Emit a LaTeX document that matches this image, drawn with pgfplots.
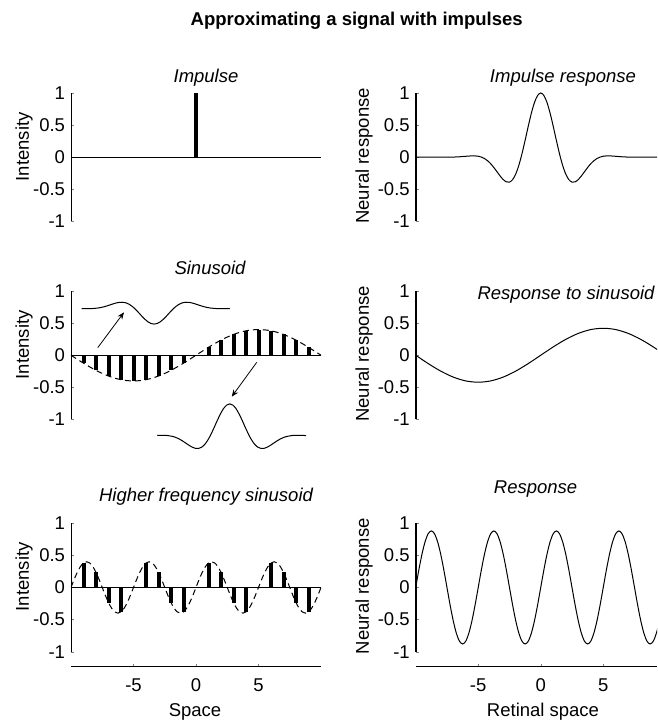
\documentclass[border=0pt]{standalone}
\usepackage{fontspec}
\setmainfont{Liberation Sans}
\usepackage{pgfplots}
\pgfplotsset{compat=1.18}
\usetikzlibrary{arrows.meta}

\newcommand{\fs}{\fontsize{9.25}{11}\selectfont}

\pgfplotsset{
  panel/.style={
    scale only axis,
    height=64.25pt,
    xmin=-10, ymin=-1, ymax=1,
    axis y line*=left,
    ytick={-1,-0.5,0,0.5,1},
    yticklabels={-1,-0.5,0,0.5,1},
    tick align=inside,
    major tick length=1.5pt,
    yticklabel style={font=\fs, inner sep=0pt, xshift=-2.8pt},
    every axis y label/.style={rotate=90, anchor=south, inner sep=0pt, font=\fs},
    every axis title shift=0pt,
    every axis title/.style={anchor=base, inner sep=0pt, font=\fs\itshape},
    anchor=south west,
  },
  leftcol/.style={panel, width=125pt, xmax=10,
    y axis line style={-, line width=0.4pt},
    ylabel={Intensity},
    ylabel style={at={(axis description cs:-0.152,0.582)}}},
  rightcol/.style={panel, width=120.65pt, xmax=9.3,
    y axis line style={-, line width=1.2pt},
    ylabel={Neural response},
    ylabel style={at={(axis description cs:-0.177,0.51)}}},
  noxaxis/.style={hide x axis},
  bottomrow/.style={
    axis x line*=bottom,
    x axis line style={-, yshift=-7.5pt, line width=0.7pt},
    xtick={-5,0,5}, xticklabels={-5,0,5},
    xtick style={yshift=-7.5pt},
    xticklabel style={font=\fs, inner sep=0pt, anchor=north, yshift=-13.15pt},
    every axis x label/.style={anchor=base, inner sep=0pt, font=\fs,
      at={(axis description cs:#1,0)}, yshift=-32.15pt}},
  curve/.style={black, line width=0.5pt, smooth},
  stem/.style={ycomb, black, line width=2pt},
  dashcurve/.style={black, line width=0.5pt, smooth, dash pattern=on 3pt off 2pt},
}

\begin{document}
\begin{tikzpicture}
\useasboundingbox (0,0) rectangle (328.5pt,360.5pt);

\node[anchor=base, font=\fs\bfseries] at (178.35pt,347.5pt) {Approximating a signal with impulses};

% Row 1 left: impulse
\begin{axis}[leftcol, noxaxis, at={(35.5pt,249.75pt)},
  title={Impulse}, title style={at={(axis description cs:0.54,1.080)}}]
\addplot[black, line width=0.5pt] coordinates {(-10,0) (10,0)};
\addplot[stem] coordinates {(0,1)};
\end{axis}

% Row 1 right: impulse response
\begin{axis}[rightcol, noxaxis, at={(207.85pt,249.75pt)},
  title={Impulse response}, title style={at={(axis description cs:0.6104,1.080)}}]
\addplot[curve] coordinates {
(-10,0) (-9,0) (-8,0) (-7,0.0025) (-6.5,0.0072) (-6,0.0146) (-5.75,0.0184)
(-5.5,0.0210) (-5.25,0.0208) (-5,0.0155) (-4.75,0.0027) (-4.5,-0.0200)
(-4.25,-0.0546) (-4,-0.1017) (-3.75,-0.1600) (-3.5,-0.2254) (-3.25,-0.2911)
(-3,-0.3476) (-2.75,-0.3836) (-2.5,-0.3873) (-2.25,-0.3487) (-2,-0.2614)
(-1.75,-0.1248) (-1.5,0.0544) (-1.25,0.2629) (-1,0.4810) (-0.75,0.6854)
(-0.5,0.8524) (-0.25,0.9619) (0,1) (0.25,0.9619) (0.5,0.8524) (0.75,0.6854)
(1,0.4810) (1.25,0.2629) (1.5,0.0544) (1.75,-0.1248) (2,-0.2614) (2.25,-0.3487)
(2.5,-0.3873) (2.75,-0.3836) (3,-0.3476) (3.25,-0.2911) (3.5,-0.2254)
(3.75,-0.1600) (4,-0.1017) (4.25,-0.0546) (4.5,-0.0200) (4.75,0.0027)
(5,0.0155) (5.25,0.0208) (5.5,0.0210) (5.75,0.0184) (6,0.0146) (6.5,0.0072)
(7,0.0025) (8,0) (9,0) (10,0)};
\end{axis}

% Row 2 left: sinusoid as impulses
\begin{axis}[leftcol, noxaxis, at={(35.5pt,150.75pt)}, clip=false,
  title={Sinusoid}, title style={at={(axis description cs:0.556,1.1245)}}]
\addplot[black, line width=0.5pt] coordinates {(-10,0) (10,0)};
\addplot[stem] coordinates {
(-9,-0.1236) (-8,-0.2351) (-7,-0.3236) (-6,-0.3804) (-5,-0.4) (-4,-0.3804)
(-3,-0.3236) (-2,-0.2351) (-1,-0.1236) (1,0.1236) (2,0.2351) (3,0.3236)
(4,0.3804) (5,0.4) (6,0.3804) (7,0.3236) (8,0.2351) (9,0.1236)};
\addplot[dashcurve] coordinates {
(-10,0) (-9.5,-0.0626) (-9,-0.1236) (-8.5,-0.1816) (-8,-0.2351) (-7.5,-0.2828)
(-7,-0.3236) (-6.5,-0.3564) (-6,-0.3804) (-5.5,-0.3951) (-5,-0.4) (-4.5,-0.3951)
(-4,-0.3804) (-3.5,-0.3564) (-3,-0.3236) (-2.5,-0.2828) (-2,-0.2351) (-1.5,-0.1816)
(-1,-0.1236) (-0.5,-0.0626) (0,0) (0.5,0.0626) (1,0.1236) (1.5,0.1816) (2,0.2351)
(2.5,0.2828) (3,0.3236) (3.5,0.3564) (4,0.3804) (4.5,0.3951) (5,0.4) (5.5,0.3951)
(6,0.3804) (6.5,0.3564) (7,0.3236) (7.5,0.2828) (8,0.2351) (8.5,0.1816)
(9,0.1236) (9.5,0.0626) (10,0)};
% inset: response to one negative impulse
\addplot[curve] coordinates {
(-9.15,0.7255) (-8.85,0.7249) (-8.35,0.7262) (-7.85,0.7349) (-7.6,0.7434)
(-7.35,0.7549) (-7.1,0.7692) (-6.85,0.7852) (-6.6,0.8013) (-6.35,0.8152)
(-6.1,0.8240) (-5.85,0.8249) (-5.6,0.8154) (-5.35,0.7940) (-5.1,0.7606)
(-4.85,0.7167) (-4.6,0.6656) (-4.35,0.6122) (-4.1,0.5621) (-3.85,0.5212)
(-3.6,0.4943) (-3.35,0.485) (-3.1,0.4943) (-2.85,0.5212) (-2.6,0.5621)
(-2.35,0.6122) (-2.1,0.6656) (-1.85,0.7167) (-1.6,0.7606) (-1.35,0.7940)
(-1.1,0.8154) (-0.85,0.8249) (-0.6,0.8240) (-0.35,0.8152) (-0.1,0.8013)
(0.15,0.7852) (0.4,0.7692) (0.65,0.7549) (0.9,0.7434) (1.15,0.7349)
(1.65,0.7262) (2.15,0.7249) (2.7,0.7265)};
% inset: response to one positive impulse
\addplot[curve] coordinates {
(-3.1,-1.2478) (-2.8,-1.2465) (-2.3,-1.2492) (-1.8,-1.267) (-1.55,-1.2843)
(-1.3,-1.3079) (-1.05,-1.337) (-0.8,-1.3697) (-0.55,-1.4026) (-0.3,-1.4308)
(-0.05,-1.4488) (0.2,-1.4507) (0.45,-1.4314) (0.7,-1.3877) (0.95,-1.3194)
(1.2,-1.2298) (1.45,-1.1255) (1.7,-1.0165) (1.95,-0.9143) (2.2,-0.8308)
(2.45,-0.776) (2.7,-0.757) (2.95,-0.776) (3.2,-0.8308) (3.45,-0.9143)
(3.7,-1.0165) (3.95,-1.1255) (4.2,-1.2298) (4.45,-1.3194) (4.7,-1.3877)
(4.95,-1.4314) (5.2,-1.4507) (5.45,-1.4488) (5.7,-1.4308) (5.95,-1.4026)
(6.2,-1.3697) (6.45,-1.337) (6.7,-1.3079) (6.95,-1.2843) (7.2,-1.267)
(7.7,-1.2492) (8.2,-1.2465) (8.8,-1.25)};
\addplot[black, line width=0.4pt, -{Stealth[length=3.5pt,width=2.8pt]}] coordinates {(-7.86,0.118) (-5.76,0.668)};
\addplot[black, line width=0.4pt, -{Stealth[length=3.5pt,width=2.8pt]}] coordinates {(4.86,-0.110) (2.86,-0.645)};
\end{axis}

% Row 2 right: response to sinusoid
\begin{axis}[rightcol, noxaxis, at={(207.85pt,150.75pt)},
  title={Response to sinusoid}, title style={at={(axis description cs:0.623,0.934)}}]
\addplot[curve] coordinates {
(-10,0) (-9,-0.1298) (-8,-0.2469) (-7,-0.3398) (-6,-0.3995) (-5,-0.42)
(-4,-0.3995) (-3,-0.3398) (-2,-0.2469) (-1,-0.1298) (0,0) (1,0.1298)
(2,0.2469) (3,0.3398) (4,0.3995) (5,0.42) (6,0.3995) (7,0.3398)
(8,0.2469) (9,0.1298) (10,0)};
\end{axis}

% Row 3 left: higher frequency sinusoid
\begin{axis}[leftcol, bottomrow=0.496, at={(35.5pt,34.65pt)}, xlabel={Space},
  title={Higher frequency sinusoid}, title style={at={(axis description cs:0.54,1.167)}}]
\addplot[black, line width=0.5pt] coordinates {(-10,0) (10,0)};
\addplot[stem] coordinates {
(-9,0.3804) (-8,0.2351) (-7,-0.2351) (-6,-0.3804) (-4,0.3804) (-3,0.2351)
(-2,-0.2351) (-1,-0.3804) (1,0.3804) (2,0.2351) (3,-0.2351) (4,-0.3804)
(6,0.3804) (7,0.2351) (8,-0.2351) (9,-0.3804)};
\addplot[dashcurve] coordinates {
(-10,0) (-9.75,0.1236) (-9.5,0.2351) (-9.25,0.3236) (-9,0.3804) (-8.75,0.4)
(-8.5,0.3804) (-8.25,0.3236) (-8,0.2351) (-7.75,0.1236) (-7.5,0) (-7.25,-0.1236)
(-7,-0.2351) (-6.75,-0.3236) (-6.5,-0.3804) (-6.25,-0.4) (-6,-0.3804)
(-5.75,-0.3236) (-5.5,-0.2351) (-5.25,-0.1236)
(-5,0) (-4.75,0.1236) (-4.5,0.2351) (-4.25,0.3236) (-4,0.3804) (-3.75,0.4)
(-3.5,0.3804) (-3.25,0.3236) (-3,0.2351) (-2.75,0.1236) (-2.5,0) (-2.25,-0.1236)
(-2,-0.2351) (-1.75,-0.3236) (-1.5,-0.3804) (-1.25,-0.4) (-1,-0.3804)
(-0.75,-0.3236) (-0.5,-0.2351) (-0.25,-0.1236)
(0,0) (0.25,0.1236) (0.5,0.2351) (0.75,0.3236) (1,0.3804) (1.25,0.4)
(1.5,0.3804) (1.75,0.3236) (2,0.2351) (2.25,0.1236) (2.5,0) (2.75,-0.1236)
(3,-0.2351) (3.25,-0.3236) (3.5,-0.3804) (3.75,-0.4) (4,-0.3804)
(4.25,-0.3236) (4.5,-0.2351) (4.75,-0.1236)
(5,0) (5.25,0.1236) (5.5,0.2351) (5.75,0.3236) (6,0.3804) (6.25,0.4)
(6.5,0.3804) (6.75,0.3236) (7,0.2351) (7.25,0.1236) (7.5,0) (7.75,-0.1236)
(8,-0.2351) (8.25,-0.3236) (8.5,-0.3804) (8.75,-0.4) (9,-0.3804)
(9.25,-0.3236) (9.5,-0.2351) (9.75,-0.1236) (10,0)};
\end{axis}

% Row 3 right: response
\begin{axis}[rightcol, bottomrow=0.5276, at={(207.85pt,34.65pt)}, xlabel={Retinal space},
  title={Response}, title style={at={(axis description cs:0.497,1.2327)}}]
\addplot[curve] coordinates {
(-10,0) (-9.75,0.2719) (-9.5,0.5173) (-9.25,0.7119) (-9,0.8370) (-8.75,0.88)
(-8.5,0.8370) (-8.25,0.7119) (-8,0.5173) (-7.75,0.2719) (-7.5,0) (-7.25,-0.2719)
(-7,-0.5173) (-6.75,-0.7119) (-6.5,-0.8370) (-6.25,-0.88) (-6,-0.8370)
(-5.75,-0.7119) (-5.5,-0.5173) (-5.25,-0.2719)
(-5,0) (-4.75,0.2719) (-4.5,0.5173) (-4.25,0.7119) (-4,0.8370) (-3.75,0.88)
(-3.5,0.8370) (-3.25,0.7119) (-3,0.5173) (-2.75,0.2719) (-2.5,0) (-2.25,-0.2719)
(-2,-0.5173) (-1.75,-0.7119) (-1.5,-0.8370) (-1.25,-0.88) (-1,-0.8370)
(-0.75,-0.7119) (-0.5,-0.5173) (-0.25,-0.2719)
(0,0) (0.25,0.2719) (0.5,0.5173) (0.75,0.7119) (1,0.8370) (1.25,0.88)
(1.5,0.8370) (1.75,0.7119) (2,0.5173) (2.25,0.2719) (2.5,0) (2.75,-0.2719)
(3,-0.5173) (3.25,-0.7119) (3.5,-0.8370) (3.75,-0.88) (4,-0.8370)
(4.25,-0.7119) (4.5,-0.5173) (4.75,-0.2719)
(5,0) (5.25,0.2719) (5.5,0.5173) (5.75,0.7119) (6,0.8370) (6.25,0.88)
(6.5,0.8370) (6.75,0.7119) (7,0.5173) (7.25,0.2719) (7.5,0) (7.75,-0.2719)
(8,-0.5173) (8.25,-0.7119) (8.5,-0.8370) (8.75,-0.88) (9,-0.8370)
(9.25,-0.7119) (9.5,-0.5173) (9.75,-0.2719) (10,0)};
\end{axis}
\end{tikzpicture}
\end{document}
